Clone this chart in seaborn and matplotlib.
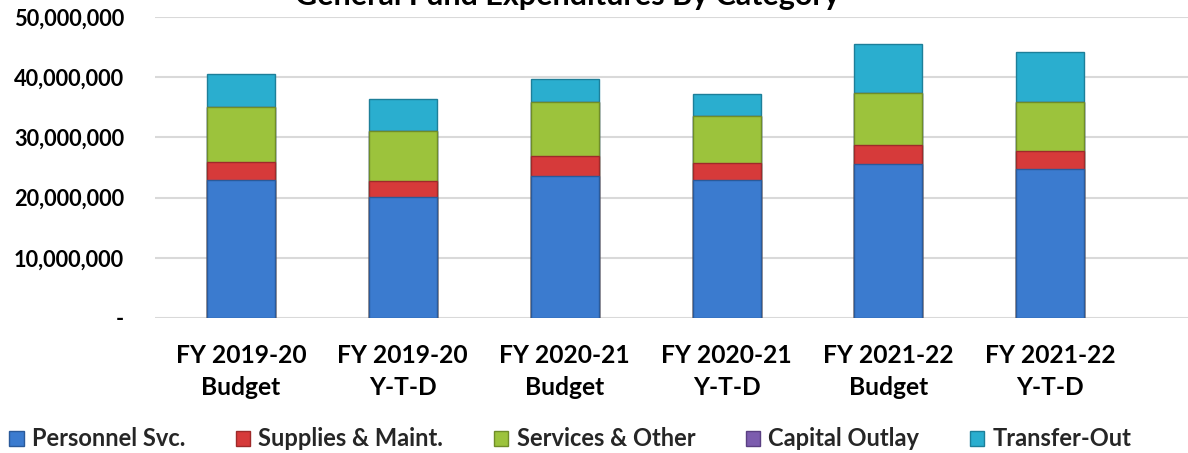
import numpy as np
import pandas as pd
import matplotlib
matplotlib.use("Agg")
import matplotlib.pyplot as plt
import seaborn as sns
from matplotlib.patches import Patch
from matplotlib.ticker import FuncFormatter

# Periods shown on the x axis
periods = ["FY 2019-20\nBudget", "FY 2019-20\nY-T-D", "FY 2020-21\nBudget",
           "FY 2020-21\nY-T-D", "FY 2021-22\nBudget", "FY 2021-22\nY-T-D"]

# Expenditures by category (dollars)
personnel = [22_900_000, 20_100_000, 23_600_000, 22_900_000, 25_600_000, 24_800_000]
supplies = [3_000_000, 2_700_000, 3_300_000, 2_800_000, 3_100_000, 2_900_000]
services = [9_100_000, 8_200_000, 9_000_000, 7_900_000, 8_700_000, 8_200_000]
capital = [0, 0, 0, 0, 0, 0]
transfer = [5_500_000, 5_400_000, 3_800_000, 3_600_000, 8_100_000, 8_300_000]

categories = ["Personnel Svc.", "Supplies & Maint.", "Services & Other",
              "Capital Outlay", "Transfer-Out"]
colors = ["#3b7bcf", "#d63a3a", "#9cc33c", "#7c5cae", "#2aaecf"]
edges = ["#2a5a9a", "#9e2a2a", "#6f8d28", "#5a3f82", "#1d7f99"]

series = [personnel, supplies, services, capital, transfer]
df = pd.DataFrame({"period": periods})
running = np.zeros(len(periods))
cum_cols = []
for name, vals in zip(categories, series):
    running = running + np.array(vals, dtype=float)
    df[name] = running.copy()
    cum_cols.append(name)

sns.set_theme(style="white")
plt.rcParams["font.family"] = ["Lato", "DejaVu Sans"]

fig = plt.figure(figsize=(11.88, 4.53), dpi=100)
ax = fig.add_axes([155 / 1188, 1 - 318 / 453, 1 - 155 / 1188, (318 - 17) / 453])

# Draw cumulative totals from the top layer down so each segment shows its own slice
for name, c, e in reversed(list(zip(cum_cols, colors, edges))):
    sns.barplot(data=df, x="period", y=name, color=c, width=0.42,
                edgecolor=e, linewidth=1.0, saturation=1, ax=ax, zorder=3)

ax.set_ylim(0, 50_000_000)
ax.set_xlim(-0.53, 5.85)
ax.set_yticks(np.arange(0, 50_000_001, 10_000_000))
ax.yaxis.set_major_formatter(FuncFormatter(lambda v, p: "-" if v == 0 else f"{int(v):,}"))
ax.grid(axis="y", color="#d9d9d9", linewidth=1.5, zorder=0)
ax.grid(axis="x", visible=False)
for s in ax.spines.values():
    s.set_visible(False)
ax.set_xlabel("")
ax.set_ylabel("")
ax.tick_params(axis="y", length=0, pad=22.3, labelsize=15.7)
ax.tick_params(axis="x", length=0, pad=19, labelsize=17.7)
for t in ax.get_yticklabels() + ax.get_xticklabels():
    t.set_fontweight("bold")
    t.set_color("black")
for t in ax.get_xticklabels():
    t.set_linespacing(1.45)

fig.text(567 / 1188, 1 - 5 / 453, "General Fund Expenditures By Category",
         ha="center", va="baseline", fontsize=22, fontweight="bold", color="black")

handles = [Patch(facecolor=c, edgecolor=e, label=n) for n, c, e in zip(categories, colors, edges)]
fig.legend(handles=handles, loc="center left", bbox_to_anchor=(0.0, 1 - 439 / 453),
           ncol=5, frameon=False, prop={"weight": "bold", "size": 17},
           handlelength=0.6, handleheight=0.6, handletextpad=0.35,
           columnspacing=2.15, borderaxespad=0, borderpad=0.4)

fig.savefig("out.png", dpi=100)
